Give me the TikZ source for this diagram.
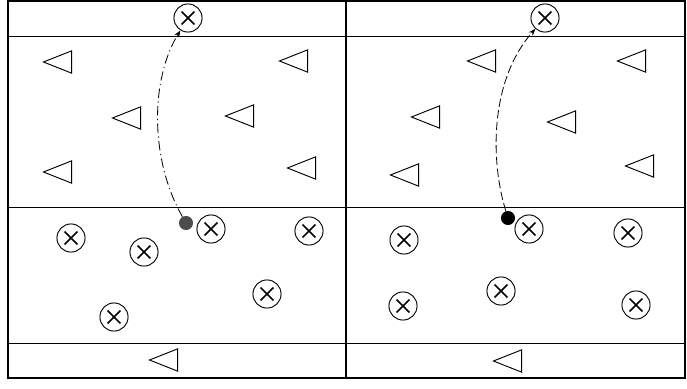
\documentclass[tikz,border=0pt]{standalone}
\usepackage{tikz}
\usetikzlibrary{shapes.geometric, arrows.meta, calc}

\begin{document}
\begin{tikzpicture}[x=0.03cm, y=-0.03cm,
  cone/.style={isosceles triangle, isosceles triangle stretches, shape border rotate=180,
    draw, line width=0.8pt, inner sep=0pt, minimum width=19pt, minimum height=24pt},
  runner/.style={circle, draw, line width=0.8pt, inner sep=0pt, minimum size=24pt,
    path picture={
      \draw[line width=1.5pt] ($(path picture bounding box.center)+(-5.5pt,-5.5pt)$) -- ($(path picture bounding box.center)+(5.5pt,5.5pt)$);
      \draw[line width=1.5pt] ($(path picture bounding box.center)+(-5.5pt,5.5pt)$) -- ($(path picture bounding box.center)+(5.5pt,-5.5pt)$);
    }},
  ball/.style={circle, fill=black, inner sep=0pt, minimum size=12pt},
  run/.style={line width=0.7pt, -{Stealth[length=6pt]}}]
\useasboundingbox (0,0) rectangle (687,389);

% Field
\draw[line width=1.4pt] (8,1) rectangle (685,378);
\draw[line width=1.6pt] (346,1) -- (346,378);
\draw[line width=0.7pt] (8,36) -- (685,36);
\draw[line width=0.7pt] (8,207) -- (685,207);
\draw[line width=0.7pt] (8,343) -- (685,343);

% Left half: cones
\node[cone] (cl1) at (64,62) {};
\node[cone] (cl2) at (133,118) {};
\node[cone] (cl3) at (64,172) {};
\node[cone] (cl4) at (300,61) {};
\node[cone] (cl5) at (246,116) {};
\node[cone] (cl6) at (308,168) {};
\node[cone] (cl7) at (170,360) {};

% Left half: players
\node[runner] (pl0) at (188,18) {};
\node[runner] (pl1) at (71,238) {};
\node[runner] (pl2) at (144,252) {};
\node[runner] (pl3) at (211,229) {};
\node[runner] (pl4) at (309,231) {};
\node[runner] (pl5) at (267,294) {};
\node[runner] (pl6) at (114,317) {};
\node[ball, fill=black!70] (bl) at (186,223) {};

% Right half: cones
\node[cone] (cr1) at (488,61) {};
\node[cone] (cr2) at (638,61) {};
\node[cone] (cr3) at (432,117) {};
\node[cone] (cr4) at (568,122) {};
\node[cone] (cr5) at (411,175) {};
\node[cone] (cr6) at (646,166) {};
\node[cone] (cr7) at (514,361) {};

% Right half: players
\node[runner] (pr0) at (545,18) {};
\node[runner] (pr1) at (404,240) {};
\node[runner] (pr2) at (529,229) {};
\node[runner] (pr3) at (628,233) {};
\node[runner] (pr4) at (403,306) {};
\node[runner] (pr5) at (501,291) {};
\node[runner] (pr6) at (636,305) {};
\node[ball] (br) at (508,218) {};

% Runs
\draw[run, dash pattern=on 8pt off 3pt on 1pt off 3pt] (bl) .. controls (150,160) and (150,80) .. (pl0);
\draw[run, dash pattern=on 7pt off 3pt] (br) .. controls (490,160) and (490,80) .. (pr0);
\end{tikzpicture}
\end{document}
